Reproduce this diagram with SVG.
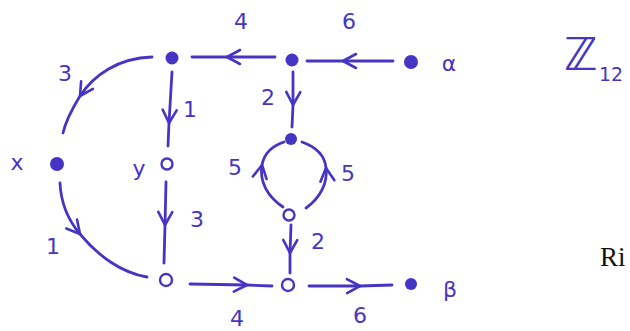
<svg xmlns="http://www.w3.org/2000/svg" width="630" height="331" viewBox="0 0 630 331">
<style>
.e{fill:none;stroke:#4634c4;stroke-width:2.8;stroke-linecap:round;marker-mid:url(#chev)}
.f{fill:#4634c4}
.o{fill:#fff;stroke:#4634c4;stroke-width:2.4}
.l{fill:#4634c4;font-family:"DejaVu Sans",sans-serif;font-size:22px;text-anchor:middle}
</style>
<defs>
<marker id="chev" markerUnits="userSpaceOnUse" orient="auto" refX="0" refY="0" markerWidth="20" markerHeight="20" style="overflow:visible">
<path d="M-13,-7 L0,0 L-13,7" fill="none" stroke="#4634c4" stroke-width="2.6" stroke-linecap="round" stroke-linejoin="round"/>
</marker>
</defs>
<rect width="630" height="331" fill="#fff"/>
<g id="connectors">
<path class="e" d="M275,57 L227,57 L192,57"/>
<path class="e" d="M393,61 L343,61 L307,61"/>
<path class="e" d="M152,57 C118,58 94,75 80,96 C72,109 66,120 63,133"/>
<path class="e" d="M172,72 L169,123 L168,146"/>
<path class="e" d="M293,72 L293,105 L292,127"/>
<path class="e" d="M283,207 C268,197 259,182 262,165 C264,154 272,146 284,142"/>
<path class="e" d="M306,208 C320,198 328,183 326,168 C325,156 316,147 302,142"/>
<path class="e" d="M291,225 L290,253 L290,273"/>
<path class="e" d="M166,182 L165,225 L164,263"/>
<path class="e" d="M60,183 C61,204 68,220 80,234 C98,256 122,273 147,277"/>
<path class="e" d="M190,284 L247,285 L272,286"/>
<path class="e" d="M309,286 L360,286 L392,285"/>
</g>
<g id="nA"><circle class="f" cx="172" cy="58" r="6.5"/></g>
<g id="nB"><circle class="f" cx="292" cy="60" r="6.5"/></g>
<g id="nAlpha"><circle class="f" cx="411" cy="62" r="7"/><text class="l" x="449" y="71" font-size="24">α</text></g>
<g id="nC"><circle class="f" cx="291" cy="139" r="6"/></g>
<g id="nX"><circle class="f" cx="57" cy="164" r="7"/><text class="l" x="17" y="170">x</text></g>
<g id="nY"><circle class="o" cx="167" cy="164" r="5.5"/><text class="l" x="139" y="176">y</text></g>
<g id="nD"><circle class="o" cx="289" cy="215" r="5.5"/></g>
<g id="nE"><circle class="o" cx="166" cy="280" r="6"/></g>
<g id="nF"><circle class="o" cx="288" cy="285" r="6"/></g>
<g id="nBeta"><circle class="f" cx="411" cy="284" r="6"/><text class="l" x="450" y="297" font-size="24">β</text></g>
<g id="labels">
<text class="l" x="241" y="29">4</text>
<text class="l" x="349" y="29">6</text>
<text class="l" x="65" y="81">3</text>
<text class="l" x="190" y="117">1</text>
<text class="l" x="268" y="105">2</text>
<text class="l" x="235" y="175">5</text>
<text class="l" x="348" y="181">5</text>
<text class="l" x="318" y="249">2</text>
<text class="l" x="197" y="227">3</text>
<text class="l" x="53" y="254">1</text>
<text class="l" x="237" y="326">4</text>
<text class="l" x="360" y="323">6</text>
</g>
<g id="title">
<text x="564" y="70" font-family="DejaVu Sans,sans-serif" font-size="45" fill="#4634c4">ℤ</text>
<text x="599" y="81" font-family="DejaVu Sans,sans-serif" font-size="19" fill="#4634c4">12</text>
</g>
<text x="600" y="266" font-family="Liberation Serif,serif" font-size="27" fill="#111">Ri</text>
</svg>
